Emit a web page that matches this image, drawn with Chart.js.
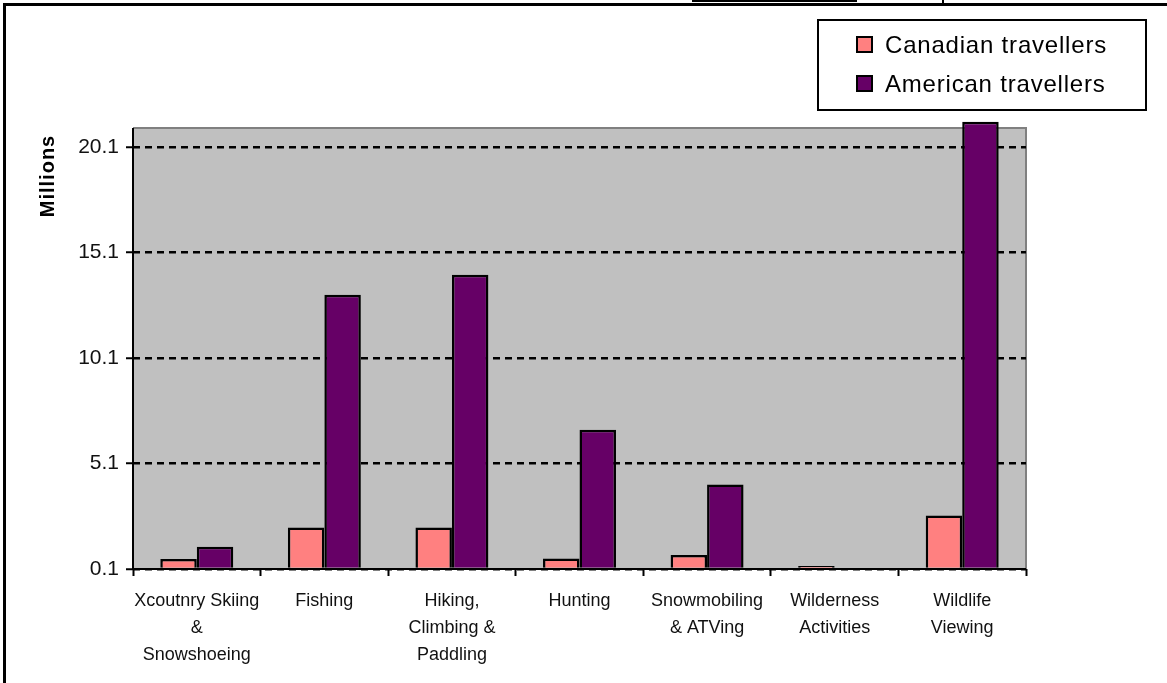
<!DOCTYPE html>
<html>
<head>
<meta charset="utf-8">
<script src="https://cdn.jsdelivr.net/npm/chart.js@4.4.1/dist/chart.umd.min.js"></script>
<style>
  html, body { margin: 0; padding: 0; background: #ffffff; }
  #wrap { position: relative; width: 1167px; height: 683px; }
  canvas { display: block; }
</style>
</head>
<body>
<div id="wrap"><canvas id="c" width="1167" height="683"></canvas></div>
<script>
const categories = [
  ["Xcoutnry Skiing", "&", "Snowshoeing"],
  ["Fishing"],
  ["Hiking,", "Climbing &", "Paddling"],
  ["Hunting"],
  ["Snowmobiling", "& ATVing"],
  ["Wilderness", "Activities"],
  ["Wildlife", "Viewing"]
];
const seriesNames = ["Canadian travellers", "American travellers"];
const canadianValues = [0.57, 2.07, 2.07, 0.6, 0.76, 0.24, 2.63];
const americanValues = [1.16, 13.1, 14.05, 6.7, 4.1, null, 21.3];
const yTickValues = [0.1, 5.1, 10.1, 15.1, 20.1];
const yMin = 0.1;
const yMax = 21.0;
const yAxisTitle = "Millions";

const FONT = "'Liberation Sans Narrow', 'Arial Narrow', 'Liberation Sans', Arial, sans-serif";
const colors = ["#FF8080", "#660066"];

const bgPlugin = {
  id: 'bgPlugin',
  beforeDraw(chart) {
    const {ctx, chartArea: a} = chart;
    ctx.save();
    ctx.fillStyle = '#C0C0C0';
    ctx.fillRect(a.left, a.top, a.right - a.left, a.bottom - a.top);
    ctx.strokeStyle = '#808080';
    ctx.lineWidth = 2;
    ctx.beginPath();
    ctx.moveTo(a.left, a.top);
    ctx.lineTo(a.right, a.top);
    ctx.lineTo(a.right, a.bottom);
    ctx.stroke();
    ctx.restore();
  },
  afterDraw(chart) {
    const {ctx, chartArea: a} = chart;
    ctx.save();
    ctx.strokeStyle = '#000';
    ctx.lineWidth = 2;
    ctx.beginPath();
    ctx.moveTo(a.left, a.top);
    ctx.lineTo(a.left, a.bottom);
    ctx.lineTo(a.right, a.bottom);
    ctx.stroke();

    ctx.lineWidth = 3;
    ctx.beginPath();
    ctx.moveTo(4.5, 683);
    ctx.lineTo(4.5, 4.5);
    ctx.lineTo(1167, 4.5);
    ctx.stroke();
    ctx.lineWidth = 2;
    ctx.beginPath();
    ctx.moveTo(943, 0);
    ctx.lineTo(943, 4);
    ctx.stroke();
    ctx.beginPath();
    ctx.moveTo(692, 1);
    ctx.lineTo(857, 1);
    ctx.stroke();

    ctx.fillStyle = '#000';
    ctx.font = "bold 20px " + FONT;
    ctx.letterSpacing = '1px';
    ctx.textAlign = 'center';
    ctx.textBaseline = 'middle';
    ctx.translate(48, 176);
    ctx.rotate(-Math.PI / 2);
    ctx.fillText(yAxisTitle, 0, 0);
    ctx.restore();

    ctx.save();
    ctx.fillStyle = '#fff';
    ctx.fillRect(818, 20, 328, 90);
    ctx.strokeStyle = '#000';
    ctx.lineWidth = 2;
    ctx.strokeRect(818, 20, 328, 90);
    ctx.font = "24px " + FONT;
    ctx.letterSpacing = '0.8px';
    ctx.textAlign = 'left';
    ctx.textBaseline = 'middle';
    chart.data.datasets.forEach((ds, i) => {
      const cy = 45 + i * 39;
      ctx.fillStyle = ds.backgroundColor;
      ctx.fillRect(857, cy - 8, 15, 15);
      ctx.lineWidth = 2;
      ctx.strokeStyle = '#000';
      ctx.strokeRect(857, cy - 8, 15, 15);
      ctx.fillStyle = '#000';
      ctx.fillText(ds.label, 885, cy + 1);
    });
    ctx.restore();
  }
};

new Chart(document.getElementById('c'), {
  type: 'bar',
  data: {
    labels: categories,
    datasets: [
      {
        label: seriesNames[0],
        data: canadianValues,
        backgroundColor: colors[0],
        borderColor: '#000',
        borderWidth: 2.5,
        base: yMin
      },
      {
        label: seriesNames[1],
        data: americanValues,
        backgroundColor: colors[1],
        borderColor: '#000',
        borderWidth: 2.5,
        base: yMin,
        clip: {left: 0, right: 0, bottom: 0, top: false}
      }
    ]
  },
  options: {
    responsive: false,
    animation: false,
    events: [],
    datasets: {
      bar: {
        categoryPercentage: 0.572,
        barPercentage: 1.0
      }
    },
    layout: {
      padding: {left: 0, top: 128, right: 141, bottom: 0}
    },
    plugins: {
      legend: { display: false },
      tooltip: { enabled: false },
      title: { display: false }
    },
    scales: {
      x: {
        offset: true,
        grid: {
          offset: true,
          drawOnChartArea: false,
          drawTicks: true,
          tickLength: 7,
          tickColor: '#000',
          tickWidth: 2,
          color: '#000'
        },
        border: { display: false },
        ticks: {
          color: '#111',
          font: { family: FONT, size: 18, lineHeight: 1.5 },
          padding: 12,
          maxRotation: 0,
          autoSkip: false
        },
        afterFit(scale) { scale.height = 114; }
      },
      y: {
        min: yMin,
        max: yMax,
        afterBuildTicks(scale) {
          scale.ticks = yTickValues.map(v => ({value: v}));
        },
        grid: {
          color: '#000',
          lineWidth: 2.5,
          drawTicks: true,
          tickLength: 7,
          tickColor: '#000',
          tickWidth: 2,
          tickBorderDash: []
        },
        border: { display: false, dash: [7, 5] },
        ticks: {
          color: '#111',
          font: { family: FONT, size: 21 },
          padding: 7,
          callback: (v) => Number(v).toFixed(1)
        },
        afterFit(scale) { scale.width = 133; }
      }
    }
  },
  plugins: [bgPlugin]
});
</script>
</body>
</html>
